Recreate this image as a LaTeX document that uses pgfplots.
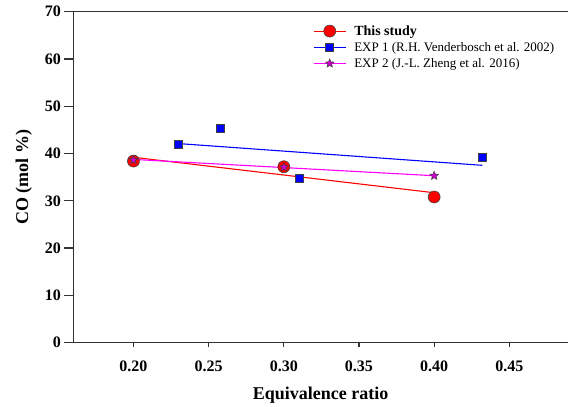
\documentclass[border=0pt]{standalone}
\usepackage{fontspec}
\setmainfont{Liberation Serif}
\usepackage{pgfplots}
\pgfplotsset{compat=1.18}

\definecolor{axisgray}{HTML}{333333}
\definecolor{studyred}{HTML}{FF0000}
\definecolor{expblue}{HTML}{0000FF}
\definecolor{expmag}{HTML}{FF00FF}
\definecolor{markedge}{HTML}{404040}

% filled five-pointed star
\pgfdeclareplotmark{fstar}{%
  \pgfpathmoveto{\pgfpointpolar{90}{\pgfplotmarksize}}%
  \pgfpathlineto{\pgfpointpolar{126}{0.45\pgfplotmarksize}}%
  \pgfpathlineto{\pgfpointpolar{162}{\pgfplotmarksize}}%
  \pgfpathlineto{\pgfpointpolar{198}{0.45\pgfplotmarksize}}%
  \pgfpathlineto{\pgfpointpolar{234}{\pgfplotmarksize}}%
  \pgfpathlineto{\pgfpointpolar{270}{0.45\pgfplotmarksize}}%
  \pgfpathlineto{\pgfpointpolar{306}{\pgfplotmarksize}}%
  \pgfpathlineto{\pgfpointpolar{342}{0.45\pgfplotmarksize}}%
  \pgfpathlineto{\pgfpointpolar{18}{\pgfplotmarksize}}%
  \pgfpathlineto{\pgfpointpolar{54}{0.45\pgfplotmarksize}}%
  \pgfpathclose
  \pgfusepathqfillstroke
}

% line + centred marker in the legend
\pgfplotsset{
  linemark legend/.style={
    legend image code/.code={
      \draw[##1] (0pt,0pt) -- (32pt,0pt);
      \draw[##1] plot coordinates {(16pt,0pt)};
    }
  }
}

\begin{document}
\begin{tikzpicture}
\begin{axis}[
  scale only axis,
  width=494.7pt, height=330.9pt,
  xmin=0.16, xmax=0.489,
  ymin=0, ymax=70,
  xtick={0.20,0.25,0.30,0.35,0.40,0.45},
  ytick={0,10,20,30,40,50,60,70},
  axis x line*=bottom, axis y line*=left,
  axis line style={-, draw=axisgray, line width=1.4pt},
  tick align=outside,
  major tick length=9pt,
  x tick style={/pgfplots/major tick length=4pt},
  tick style={draw=axisgray, line width=1.2pt},
  /pgf/number format/assume math mode=true,
  xticklabel style={font=\bfseries\fontsize{16}{16}\selectfont, yshift=-6pt,
    /pgf/number format/.cd, fixed, fixed zerofill, precision=2},
  yticklabel style={font=\bfseries\fontsize{16}{16}\selectfont},
  xlabel={Equivalence ratio},
  ylabel={CO (mol \%)},
  xlabel style={yshift=-8pt},
  ylabel style={yshift=6pt},
  label style={font=\bfseries\fontsize{18}{18}\selectfont},
  legend style={draw=none, fill=none, at={(0.4845,0.965)}, anchor=north west,
    font=\fontsize{13}{13}\selectfont, cells={anchor=west},
    row sep=1.5pt, inner sep=0pt,
    /tikz/every odd column/.append style={column sep=6pt}},
  clip=false,
]
% frame line along the top
\draw[axisgray, line width=1.4pt] (rel axis cs:0,1) -- (rel axis cs:1,1);

% fitted trend lines
\addplot[studyred, line width=1.1pt, forget plot] coordinates {(0.20,39.2) (0.40,31.7)};
\addplot[expblue, line width=1.1pt, forget plot] coordinates {(0.23,42.1) (0.432,37.5)};
\addplot[expmag, line width=1.1pt, forget plot] coordinates {(0.20,38.75) (0.40,35.3)};

% measured points
\addplot[studyred, line width=1.1pt, only marks, mark=*, mark size=6pt,
  mark options={fill=studyred, draw=markedge, line width=0.6pt}, linemark legend]
  coordinates {(0.20,38.4) (0.30,37.2) (0.40,30.8)};
\addlegendentry{\textbf{\fontsize{14}{14}\selectfont This study}}

\addplot[expblue, line width=1.1pt, only marks, mark=square*, mark size=4pt,
  mark options={fill=expblue, draw=markedge, line width=0.6pt}, linemark legend]
  coordinates {(0.23,42.0) (0.2575,45.3) (0.31,34.8) (0.432,39.1)};
\addlegendentry{EXP 1 (R.H. Venderbosch et al. 2002)}

\addplot[expmag, line width=1.1pt, only marks, mark=fstar, mark size=4.5pt,
  mark options={fill=expmag!80!black, draw=markedge, line width=0.5pt}, linemark legend]
  coordinates {(0.20,38.65) (0.30,37.1) (0.40,35.3)};
\addlegendentry{EXP 2 (J.-L. Zheng et al. 2016)}

\coordinate (bl) at (rel axis cs:0,0);
\coordinate (tr) at (rel axis cs:1,1);
\end{axis}
\pgfresetboundingbox
\path[use as bounding box] ([xshift=-73.3pt,yshift=-64.3pt]bl) rectangle ([yshift=11.7pt]tr);
\end{tikzpicture}
\end{document}
